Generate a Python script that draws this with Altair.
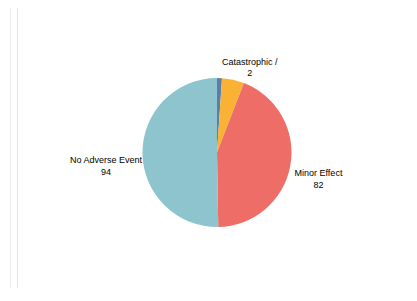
import altair as alt
import pandas as pd

categories = ["Catastrophic /", "Major Effect", "Minor Effect", "No Adverse Event"]
counts = [2, 9, 82, 94]
show_label = [True, False, True, True]
colors = ["#5a7ea9", "#f9b234", "#ee6e67", "#8dc4cd"]

df = pd.DataFrame({
    "category": categories,
    "count": counts,
    "order": list(range(len(categories))),
    "show": show_label,
})

W, H = 401, 280
CX, CY = 209, 144.5

base = alt.Chart(df).encode(
    theta=alt.Theta("count:Q", stack=True),
    order=alt.Order("order:Q"),
    x=alt.value(CX),
    y=alt.value(CY),
)

pie = base.mark_arc(outerRadius=74.5).encode(
    color=alt.Color("category:N", scale=alt.Scale(domain=categories, range=colors), legend=None),
)

# per-label placement offsets (style only)
label_style = {
    "Catastrophic /": dict(radius=85, dx=30, dy=-6),
    "Minor Effect": dict(radius=100, dx=3, dy=3),
    "No Adverse Event": dict(radius=111, dx=0, dy=7),
}

layers = [pie]
for cat, st in label_style.items():
    t = base.transform_calculate(
        label=f"datum.show && datum.category == '{cat}' ? datum.category + '\\n' + datum.count : ''"
    ).mark_text(
        radius=st["radius"], dx=st["dx"], dy=st["dy"],
        font="Liberation Sans, Arial, sans-serif", fontSize=9, color="#000000",
        align="center", baseline="middle", lineBreak="\n", lineHeight=11.5,
    ).encode(text="label:N")
    layers.append(t)

rule1 = alt.Chart(df).mark_rule(color="#e6e6e6", strokeWidth=1).encode(
    x=alt.value(9.5), y=alt.value(0), y2=alt.value(H)
)
rule2 = alt.Chart(df).mark_rule(color="#ececec", strokeWidth=1).encode(
    x=alt.value(2.5), y=alt.value(0), y2=alt.value(H)
)
layers += [rule1, rule2]

chart = alt.layer(*layers).properties(
    width=W, height=H, padding=0, autosize=alt.AutoSizeParams(type="none")
).configure_view(stroke=None)

chart.save("out.html", embed_options={"renderer": "svg", "actions": False})
